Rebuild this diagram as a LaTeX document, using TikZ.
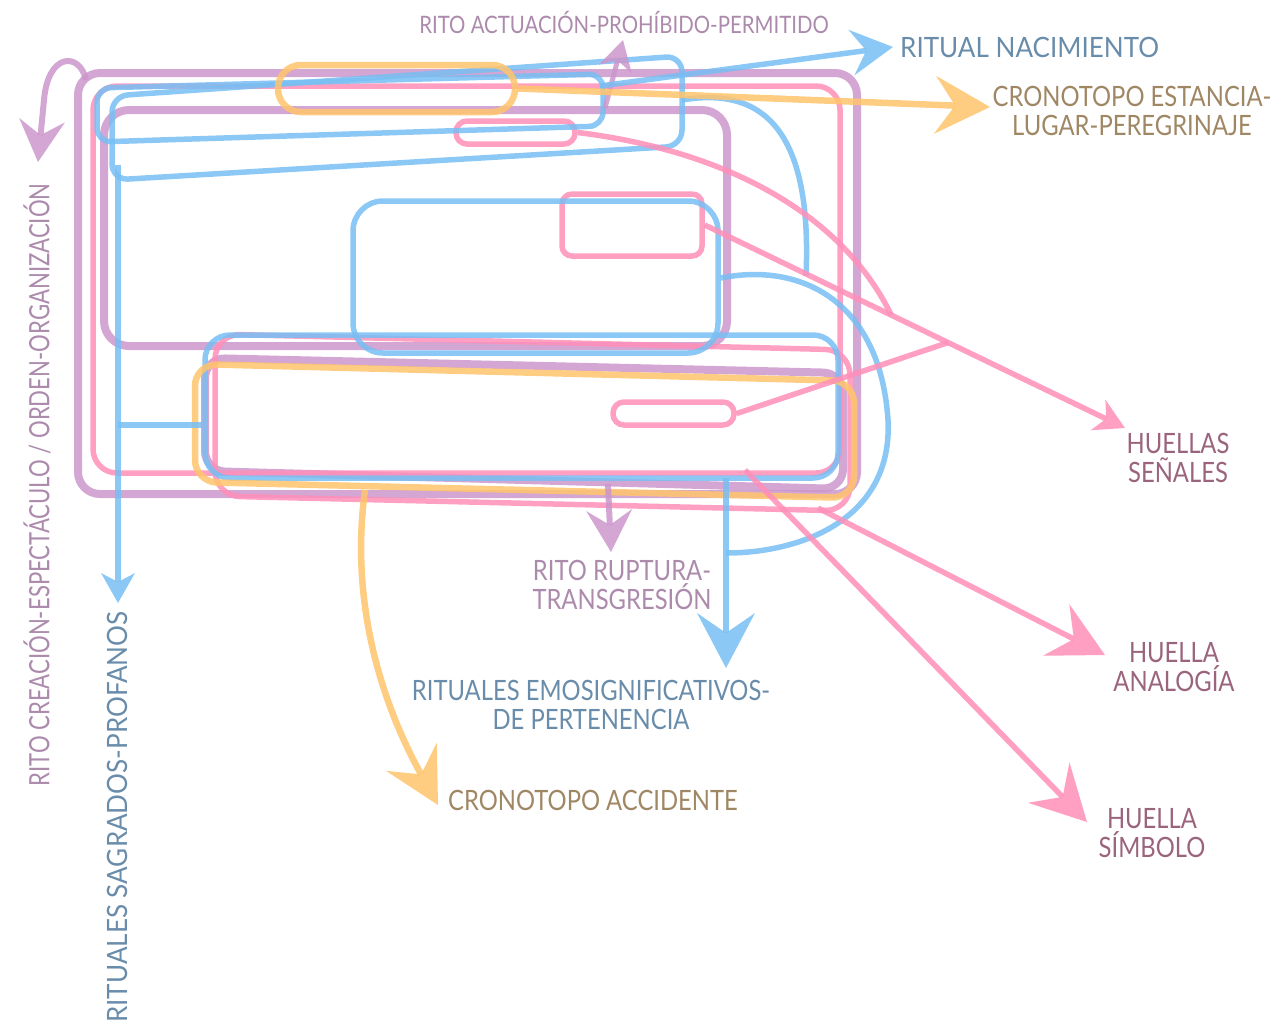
\documentclass[tikz,border=0pt]{standalone}
\usepackage{fontspec}
\setmainfont[FakeStretch=0.85]{Lato}
\newfontfamily\estrecha[FakeStretch=0.79]{Lato}
\newfontfamily\ancha[FakeStretch=0.93]{Lato}
\usetikzlibrary{arrows.meta,calc}

\definecolor{lila}{RGB}{203,150,203}
\definecolor{celeste}{RGB}{120,190,243}
\definecolor{rosa}{RGB}{255,143,185}
\definecolor{naranja}{RGB}{255,196,108}
\definecolor{lilaText}{RGB}{172,138,172}
\definecolor{azulText}{RGB}{105,140,170}
\definecolor{cafeText}{RGB}{160,135,100}
\definecolor{rosaText}{RGB}{155,100,125}

\begin{document}
\begin{tikzpicture}[x=1pt, y=-1pt,
    lilaLine/.style={draw=lila, fill=lila, line width=8pt, opacity=0.85},
    azulLine/.style={draw=celeste, fill=celeste, line width=5.5pt, opacity=0.85},
    rosaLine/.style={draw=rosa, fill=rosa, line width=5.5pt, opacity=0.85},
    naranjaLine/.style={draw=naranja, fill=naranja, line width=6.5pt, opacity=0.85},
    caja/.style={fill=none, inner sep=0pt},
    puntaS/.style={-{Stealth[length=30pt, width=34pt, inset=9pt, line width=0pt]}},
    puntaM/.style={-{Stealth[length=42pt, width=46pt, inset=15pt, line width=0pt]}},
    puntaL/.style={-{Stealth[length=55pt, width=58pt, inset=20pt, line width=0pt]}},
    rotulo/.style={font=\fontsize{28}{29}\selectfont, align=center, inner sep=0pt}]

    \useasboundingbox (0,0) rectangle (1281,1026);

    % Purple frames
    \node[lilaLine, caja, rounded corners=22pt, minimum width=779pt, minimum height=421pt] (P1) at (467.5,283.5) {};
    \node[lilaLine, caja, rounded corners=25pt, minimum width=623pt, minimum height=236pt] (P2) at (415.5,228) {};
    \draw[lilaLine, fill=none, rounded corners=20pt] (205,358) -- (843,373) -- (843,489) -- (205,471) -- cycle;

    % Pink frames
    \node[rosaLine, caja, rounded corners=24pt, minimum width=747pt, minimum height=387pt] (K1) at (466.5,279.5) {};
    \draw[rosaLine, fill=none, rounded corners=25pt] (215,334) -- (850,350) -- (850,511) -- (215,496) -- cycle;
    \node[rosaLine, caja, rounded corners=11pt, minimum width=119pt, minimum height=23pt] (K3) at (515.5,132.5) {};
    \node[rosaLine, caja, rounded corners=10pt, minimum width=140pt, minimum height=62pt] (K4) at (632,225) {};
    \node[rosaLine, caja, rounded corners=11pt, minimum width=121pt, minimum height=23pt] (K5) at (673.5,413.5) {};

    % Blue frames
    \draw[azulLine, fill=none, rounded corners=14pt] (97,88) -- (603,74) -- (603,126) -- (97,142) -- cycle;
    \draw[azulLine, fill=none, rounded corners=16pt] (112,96) -- (682,56) -- (682,146) -- (112,180) -- cycle;
    \node[azulLine, caja, rounded corners=30pt, minimum width=365pt, minimum height=152pt] (B3) at (535.5,277) {};
    \node[azulLine, caja, rounded corners=25pt, minimum width=633pt, minimum height=143pt] (B4) at (521.5,406.5) {};

    % Orange frames
    \node[naranjaLine, caja, rounded corners=23pt, minimum width=237pt, minimum height=47pt] (O1) at (396.5,88.5) {};
    \draw[naranjaLine, fill=none, rounded corners=22pt] (195,364) -- (854,381) -- (854,498) -- (195,482) -- cycle;

    % Labels
    \node[rotulo, font=\fontsize{24}{26}\selectfont, text=lilaText] (tActuacion) at (624,22) {RITO ACTUACIÓN-PROHÍBIDO-PERMITIDO};
    \node[rotulo, font=\ancha\fontsize{28}{29}\selectfont, text=azulText, anchor=west] (tNacimiento) at (900,47) {RITUAL NACIMIENTO};
    \node[rotulo, text=cafeText] (tEstancia) at (1132,111) {CRONOTOPO ESTANCIA-\\LUGAR-PEREGRINAJE};
    \node[rotulo, text=rosaText] (tSenales) at (1178,458) {HUELLAS\\SEÑALES};
    \node[rotulo, text=rosaText] (tAnalogia) at (1174,667) {HUELLA\\ANALOGÍA};
    \node[rotulo, text=rosaText] (tSimbolo) at (1152,833) {HUELLA\\SÍMBOLO};
    \node[rotulo, text=lilaText] (tRuptura) at (622,585) {RITO RUPTURA-\\TRANSGRESIÓN};
    \node[rotulo, text=azulText] (tEmosig) at (591,705) {RITUALES EMOSIGNIFICATIVOS-\\DE PERTENENCIA};
    \node[rotulo, text=cafeText] (tAccidente) at (593,800) {CRONOTOPO ACCIDENTE};
    \node[rotulo, font=\estrecha\fontsize{28}{29}\selectfont, text=lilaText, rotate=90] (tCreacion) at (37,485) {RITO CREACIÓN-ESPECTÁCULO / ORDEN-ORGANIZACIÓN};
    \node[rotulo, font=\ancha\fontsize{28}{29}\selectfont, text=azulText, rotate=90] (tSagrados) at (117,817) {RITUALES SAGRADOS-PROFANOS};

    % Ends of the connectors
    \coordinate (curlStart) at (86,80);
    \coordinate (curlTip) at (38,162);
    \coordinate (actStart) at (605,108);
    \coordinate (actTip) at (623,40);
    \coordinate (nacStart) at (600,86);
    \coordinate (nacTip) at (893,47);
    \coordinate (estTip) at (990,107);
    \coordinate (accStart) at (365,490);
    \coordinate (accTip) at (438,805);
    \coordinate (rupStart) at (608,484);
    \coordinate (rupTip) at (611,552);
    \coordinate (emoStart) at (726,478);
    \coordinate (emoTip) at (726,668);
    \coordinate (sagStart) at (118,165);
    \coordinate (sagTip) at (118,603);
    \coordinate (senTip) at (1125,428);
    \coordinate (anaStart) at (818,508);
    \coordinate (anaTip) at (1105,655);
    \coordinate (simStart) at (745,470);
    \coordinate (simTip) at (1087,822);
    \coordinate (jA) at ($(K4.east)!0.444!(senTip)$);
    \coordinate (jB) at ($(K4.east)!0.579!(senTip)$);

    % Purple connectors
    \draw[lilaLine, fill=none, line width=6pt, puntaM] (curlStart) .. controls (80,52) and (48,52) .. (44,100) -- (curlTip);
    \draw[lilaLine, line width=5pt, puntaS] (actStart) -- (actTip);
    \draw[lilaLine, line width=6pt, puntaM] (rupStart) -- (rupTip);

    % Blue connectors
    \draw[azulLine, puntaM] (nacStart) -- (nacTip);
    \draw[azulLine, puntaS] (sagStart) -- (sagTip);
    \draw[azulLine] (sagStart |- 0,425) -- (B4.west |- 0,425);
    \draw[azulLine, fill=none] (682,100) .. controls (770,85) and (812,140) .. (806,276);
    \draw[azulLine, fill=none] (B3.east |- 0,278) .. controls (800,262) and (880,300) .. (888,420)
        .. controls (893,520) and (800,553) .. (emoStart |- 0,553);
    \draw[azulLine, puntaL] (emoStart) -- (emoTip);

    % Orange connectors
    \draw[naranjaLine, puntaL] (O1.east) -- (estTip);
    \draw[naranjaLine, fill=none, puntaL] (accStart) .. controls (350,600) and (380,700) .. (accTip);

    % Pink connectors
    \draw[rosaLine, puntaS] (K4.east) -- (senTip);
    \draw[rosaLine, fill=none] (K3.east) .. controls (720,150) and (840,210) .. (jA);
    \draw[rosaLine] (K5.east) -- (jB);
    \draw[rosaLine, puntaL] (anaStart) -- (anaTip);
    \draw[rosaLine, puntaL] (simStart) -- (simTip);
\end{tikzpicture}
\end{document}
